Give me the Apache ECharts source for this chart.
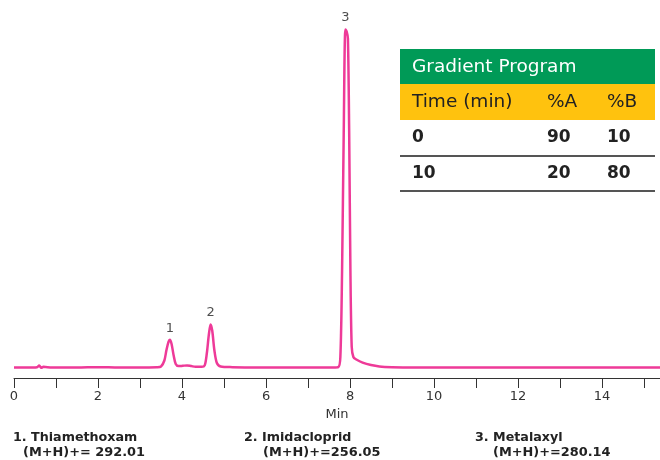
<!DOCTYPE html>
<html>
<head>
<meta charset="utf-8">
<script src="https://cdn.jsdelivr.net/npm/echarts@6/dist/echarts.min.js"></script>
<style>html,body{margin:0;padding:0;background:#fff;}#c{width:660px;height:460px;}</style>
</head>
<body>
<div id="c"></div>
<script>
// Chromatogram trace (time in min, relative intensity)
var times = [0, 0.3, 0.55, 0.6, 0.65, 0.7, 0.9, 1.5, 2.0, 2.5, 3.0, 3.4, 3.5, 3.58, 3.63, 3.68, 3.71, 3.75, 3.8, 3.85, 3.92, 4.02, 4.12, 4.22, 4.32, 4.47, 4.54, 4.59, 4.64, 4.68, 4.72, 4.77, 4.83, 4.92, 5.2, 5.8, 6.5, 7.2, 7.6, 7.72, 7.77, 7.81, 7.85, 7.89, 7.92, 7.95, 7.98, 8.01, 8.04, 8.08, 8.15, 8.3, 8.5, 8.7, 9.0, 9.5, 10, 11, 12, 13, 14, 15, 15.38];
var intensity = [3.0, 3.0, 3.1, 3.6, 2.9, 3.2, 3.0, 3.0, 3.1, 3.0, 3.0, 3.1, 3.3, 5.0, 8.0, 10.4, 10.9, 9.8, 6.5, 4.0, 3.4, 3.5, 3.6, 3.4, 3.2, 3.2, 3.6, 7.0, 12.5, 15.3, 13.5, 8.0, 4.3, 3.3, 3.1, 3.0, 3.0, 3.0, 3.0, 3.1, 6.0, 30, 70, 99.6, 99.0, 97.0, 70, 30, 9.0, 6.0, 5.3, 4.4, 3.7, 3.3, 3.1, 3.0, 3.0, 3.0, 3.0, 3.0, 3.0, 3.0, 3.0];
// Peak labels
var peakTimes = [3.71, 4.68, 7.89];
var peakHeights = [10.9, 15.3, 99.6];
var peakNames = ['1', '2', '3'];
// Axis
var xTickLabels = ['0', '2', '4', '6', '8', '10', '12', '14'];
var xAxisName = 'Min';
// Compounds
var compoundNames = ['1. Thiamethoxam', '2. Imidacloprid', '3. Metalaxyl'];
var compoundMasses = ['(M+H)+= 292.01', '(M+H)+=256.05', '(M+H)+=280.14'];
// Gradient table
var tableTitle = 'Gradient Program';
var tableHeader = ['Time (min)', '%A', '%B'];
var tableRows = [['0', '90', '10'], ['10', '20', '80']];

var FONT = 'DejaVu Sans, Verdana, sans-serif';
var lineData = times.map(function (t, i) { return [t, intensity[i]]; });
var peakData = peakTimes.map(function (t, i) { return [t, peakHeights[i]]; });

var graphics = [];
// table
var tx = 400, tw = 255, colX = [412, 547, 607];
graphics.push({ type: 'rect', shape: { x: tx, y: 49, width: tw, height: 35 }, style: { fill: '#009a57' } });
graphics.push({ type: 'rect', shape: { x: tx, y: 84, width: tw, height: 36 }, style: { fill: '#ffc20e' } });
graphics.push({ type: 'text', x: colX[0], y: 67, style: { text: tableTitle, font: '18.5px ' + FONT, fill: '#ffffff', textVerticalAlign: 'middle' } });
tableHeader.forEach(function (h, i) {
  graphics.push({ type: 'text', x: colX[i], y: 102, style: { text: h, font: '18.5px ' + FONT, fill: '#222222', textVerticalAlign: 'middle' } });
});
var rowY = [138, 174], lineY = [156, 191];
tableRows.forEach(function (r, ri) {
  r.forEach(function (c, ci) {
    graphics.push({ type: 'text', x: colX[ci], y: rowY[ri], style: { text: c, font: 'bold 17px ' + FONT, fill: '#222222', textVerticalAlign: 'middle' } });
  });
  graphics.push({ type: 'line', shape: { x1: tx, y1: lineY[ri], x2: tx + tw, y2: lineY[ri] }, style: { stroke: '#555555', lineWidth: 2 } });
});
// compounds
var cx1 = [13, 244, 475], cx2 = [23, 263, 493];
compoundNames.forEach(function (n, i) {
  graphics.push({ type: 'text', x: cx1[i], y: 438, style: { text: n, font: 'bold 12.7px ' + FONT, fill: '#222222', textVerticalAlign: 'middle' } });
  graphics.push({ type: 'text', x: cx2[i], y: 453, style: { text: compoundMasses[i], font: 'bold 12.9px ' + FONT, fill: '#222222', textVerticalAlign: 'middle' } });
});

var chart = echarts.init(document.getElementById('c'), null, { renderer: 'canvas' });
chart.setOption({
  animation: false,
  backgroundColor: '#ffffff',
  grid: { left: 14, right: 0, top: 28, bottom: 82 },
  xAxis: {
    type: 'value', min: 0, max: 15.38, interval: 1,
    name: xAxisName, nameLocation: 'middle', nameGap: 29,
    nameTextStyle: { fontFamily: FONT, fontSize: 13, color: '#333333' },
    axisLine: { lineStyle: { color: '#333333', width: 1 } },
    axisTick: { length: 10, lineStyle: { color: '#333333' } },
    axisLabel: {
      margin: 12, fontFamily: FONT, fontSize: 13, color: '#333333', showMaxLabel: false,
      formatter: function (v) { var s = String(Math.round(v)); return xTickLabels.indexOf(s) >= 0 && Math.abs(v - Math.round(v)) < 1e-6 ? s : ''; }
    },
    splitLine: { show: false }
  },
  yAxis: { type: 'value', min: 0, max: 100, show: false },
  series: [
    { type: 'line', data: lineData, showSymbol: false, symbol: 'none', smooth: 0.3,
      lineStyle: { color: '#ee3a98', width: 2.5 }, z: 2 },
    { type: 'scatter', data: peakData, symbolSize: 0, silent: true,
      label: { show: true, position: 'top', distance: 5, fontFamily: FONT, fontSize: 13, color: '#222222',
        formatter: function (p) { return peakNames[p.dataIndex]; } } }
  ],
  graphic: graphics
});
</script>
</body>
</html>
